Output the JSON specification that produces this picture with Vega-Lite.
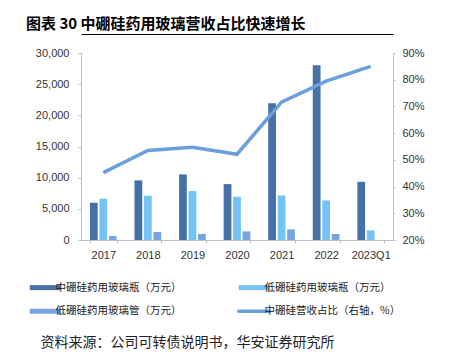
{
  "$schema": "https://vega.github.io/schema/vega-lite/v6.json",
  "width": 312,
  "height": 187,
  "autosize": "none",
  "padding": {"left": 81, "top": 53, "right": 56, "bottom": 115},
  "background": "white",
  "title": {
    "text": "图表 30 中硼硅药用玻璃营收占比快速增长",
    "anchor": "start",
    "frame": "group",
    "dx": -55,
    "font": "Noto Sans CJK SC",
    "fontSize": 15,
    "fontWeight": "bold",
    "color": "#000000",
    "offset": 2
  },
  "datasets": {
    "bars": [
      {"year": "2017", "series": "中硼硅药用玻璃瓶（万元）", "value": 5980},
      {"year": "2017", "series": "低硼硅药用玻璃瓶（万元）", "value": 6620},
      {"year": "2017", "series": "低硼硅药用玻璃管（万元）", "value": 640},
      {"year": "2018", "series": "中硼硅药用玻璃瓶（万元）", "value": 9560},
      {"year": "2018", "series": "低硼硅药用玻璃瓶（万元）", "value": 7100},
      {"year": "2018", "series": "低硼硅药用玻璃管（万元）", "value": 1280},
      {"year": "2019", "series": "中硼硅药用玻璃瓶（万元）", "value": 10520},
      {"year": "2019", "series": "低硼硅药用玻璃瓶（万元）", "value": 7850},
      {"year": "2019", "series": "低硼硅药用玻璃管（万元）", "value": 960},
      {"year": "2020", "series": "中硼硅药用玻璃瓶（万元）", "value": 8970},
      {"year": "2020", "series": "低硼硅药用玻璃瓶（万元）", "value": 6940},
      {"year": "2020", "series": "低硼硅药用玻璃管（万元）", "value": 1390},
      {"year": "2021", "series": "中硼硅药用玻璃瓶（万元）", "value": 21940},
      {"year": "2021", "series": "低硼硅药用玻璃瓶（万元）", "value": 7150},
      {"year": "2021", "series": "低硼硅药用玻璃管（万元）", "value": 1710},
      {"year": "2022", "series": "中硼硅药用玻璃瓶（万元）", "value": 28030},
      {"year": "2022", "series": "低硼硅药用玻璃瓶（万元）", "value": 6350},
      {"year": "2022", "series": "低硼硅药用玻璃管（万元）", "value": 960},
      {"year": "2023Q1", "series": "中硼硅药用玻璃瓶（万元）", "value": 9340},
      {"year": "2023Q1", "series": "低硼硅药用玻璃瓶（万元）", "value": 1550}
    ],
    "share": [
      {"year": "2017", "share": 0.452},
      {"year": "2018", "share": 0.535},
      {"year": "2019", "share": 0.547},
      {"year": "2020", "share": 0.521},
      {"year": "2021", "share": 0.716},
      {"year": "2022", "share": 0.795},
      {"year": "2023Q1", "share": 0.85}
    ]
  },
  "config": {
    "view": {"stroke": null},
    "axis": {
      "labelFont": "Liberation Sans",
      "labelFontSize": 11,
      "labelColor": "#333333",
      "domainColor": "#bfbfbf",
      "tickColor": "#bfbfbf",
      "grid": false
    }
  },
  "layer": [
    {
      "data": {"name": "bars"},
      "mark": {"type": "bar"},
      "encoding": {
        "x": {
          "field": "year",
          "type": "nominal",
          "sort": null,
          "scale": {"paddingInner": 0.4, "paddingOuter": 0.2},
          "axis": {
            "labelAngle": 0,
            "labelPadding": 6,
            "tickSize": 3,
            "tickBand": "extent",
            "title": "资料来源：公司可转债说明书，华安证券研究所",
            "titleFont": "Noto Sans CJK SC",
            "titleFontSize": 14,
            "titleFontWeight": "normal",
            "titleColor": "#222222",
            "titleX": -41,
            "titleY": 102,
            "titleAlign": "left",
            "titleBaseline": "middle"
          }
        },
        "xOffset": {
          "field": "series",
          "type": "nominal",
          "sort": ["中硼硅药用玻璃瓶（万元）", "低硼硅药用玻璃瓶（万元）", "低硼硅药用玻璃管（万元）"],
          "scale": {"paddingInner": 0.18, "paddingOuter": 0}
        },
        "y": {
          "field": "value",
          "type": "quantitative",
          "scale": {"domain": [0, 30000]},
          "axis": {
            "title": null,
            "values": [0, 5000, 10000, 15000, 20000, 25000, 30000],
            "format": ",.0f",
            "tickSize": 3,
            "labelPadding": 9
          }
        },
        "color": {
          "field": "series",
          "type": "nominal",
          "scale": {
            "domain": ["中硼硅药用玻璃瓶（万元）", "低硼硅药用玻璃瓶（万元）", "低硼硅药用玻璃管（万元）", "中硼硅营收占比（右轴，%）"],
            "range": ["#4670A6", "#74C3F4", "#78A5E0", "#6C9EDB"]
          },
          "legend": {
            "title": null,
            "orient": "none",
            "direction": "horizontal",
            "legendX": -41,
            "legendY": 229,
            "columns": 2,
            "columnPadding": 46,
            "rowPadding": 3,
            "symbolType": "stroke",
            "symbolSize": 961,
            "symbolStrokeWidth": 5,
            "labelOffset": 5,
            "labelFont": "Noto Sans CJK SC",
            "labelFontSize": 10.5,
            "labelColor": "#222222",
            "labelLimit": 300,
            "encode": {
              "symbols": {
                "update": {
                  "strokeWidth": {"signal": "datum.value === '中硼硅营收占比（右轴，%）' ? 3.5 : 5"},
                  "strokeCap": {"signal": "datum.value === '中硼硅营收占比（右轴，%）' ? 'round' : 'butt'"}
                }
              }
            }
          }
        }
      }
    },
    {
      "data": {"name": "share"},
      "mark": {"type": "line", "strokeWidth": 3.5},
      "encoding": {
        "x": {
          "field": "year",
          "type": "nominal",
          "sort": null,
          "scale": {"type": "point", "padding": 0.5},
          "axis": {
            "orient": "top",
            "offset": 19,
            "labels": false,
            "ticks": false,
            "title": null,
            "domain": true,
            "domainColor": "#000000",
            "domainWidth": 1.2
          }
        },
        "y": {
          "field": "share",
          "type": "quantitative",
          "scale": {"domain": [0.2, 0.9]},
          "axis": {
            "title": null,
            "orient": "right",
            "format": ".0%",
            "values": [0.2, 0.3, 0.4, 0.5, 0.6, 0.7, 0.8, 0.9],
            "tickSize": 2,
            "labelPadding": 7
          }
        },
        "color": {"datum": "中硼硅营收占比（右轴，%）"}
      }
    }
  ],
  "resolve": {"scale": {"y": "independent", "x": "independent"}}
}
